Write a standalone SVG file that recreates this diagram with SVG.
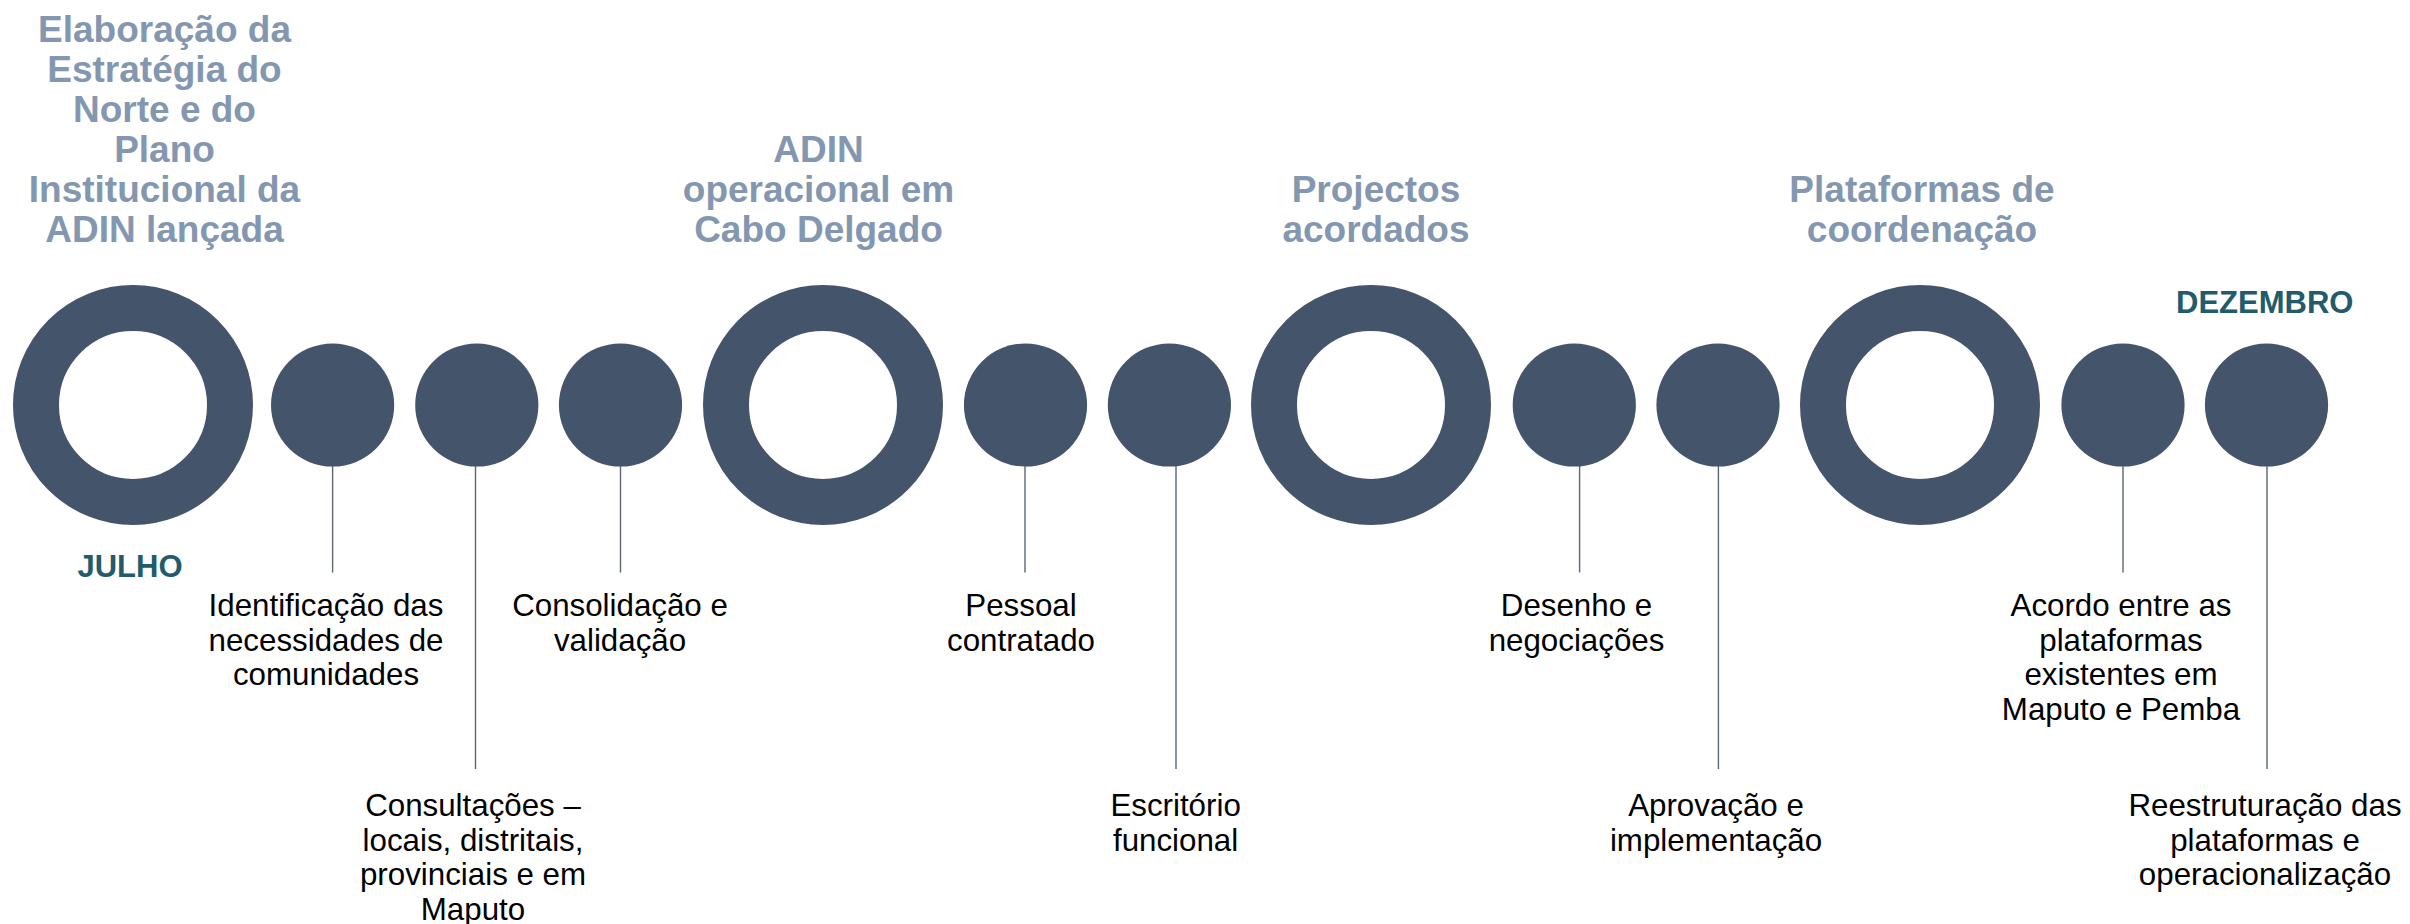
<svg xmlns="http://www.w3.org/2000/svg" width="2410" height="924" viewBox="0 0 2410 924">
<style>
.big{fill:none;stroke:#44546A;stroke-width:46}
.small{fill:#44546A}
.hd{font-family:"Liberation Sans",Arial,sans-serif;font-weight:bold;font-size:37px;fill:#8497B0;text-anchor:middle}
.mo{font-family:"Liberation Sans",Arial,sans-serif;font-weight:bold;font-size:31px;fill:#225B6A;text-anchor:middle}
.lb{font-family:"Liberation Sans",Arial,sans-serif;font-size:31.3px;fill:#000;text-anchor:middle}
.ln{stroke:#5A667A;stroke-width:1.4;fill:none}
</style>
<rect width="2410" height="924" fill="#fff"/>
<g id="connectors">
<line class="ln" x1="332.6" y1="466" x2="332.6" y2="572.5"/>
<line class="ln" x1="475.5" y1="466" x2="475.5" y2="769"/>
<line class="ln" x1="620.5" y1="466" x2="620.5" y2="572.5"/>
<line class="ln" x1="1025" y1="466" x2="1025" y2="572.5"/>
<line class="ln" x1="1176" y1="466" x2="1176" y2="769"/>
<line class="ln" x1="1579.6" y1="466" x2="1579.6" y2="572.5"/>
<line class="ln" x1="1718.4" y1="466" x2="1718.4" y2="769"/>
<line class="ln" x1="2123" y1="466" x2="2123" y2="572.5"/>
<line class="ln" x1="2267" y1="466" x2="2267" y2="769"/>
</g>
<g id="m1">
<circle class="big" cx="133" cy="405" r="97"/>
<text class="hd" x="164.5"><tspan x="164.5" y="41.7">Elaboração da</tspan><tspan x="164.5" y="81.7">Estratégia do</tspan><tspan x="164.5" y="121.7">Norte e do</tspan><tspan x="164.5" y="161.7">Plano</tspan><tspan x="164.5" y="201.7">Institucional da</tspan><tspan x="164.5" y="241.7">ADIN lançada</tspan></text>
<text class="mo" x="130" y="576.7">JULHO</text>
</g>
<g id="s1">
<circle class="small" cx="332.6" cy="405" r="61.6"/>
<text class="lb"><tspan x="326" y="616">Identificação das</tspan><tspan x="326" y="650.5">necessidades de</tspan><tspan x="326" y="685">comunidades</tspan></text>
</g>
<g id="s2">
<circle class="small" cx="476.8" cy="405" r="61.6"/>
<text class="lb"><tspan x="473" y="816">Consultações –</tspan><tspan x="473" y="850.7">locais, distritais,</tspan><tspan x="473" y="885.4">provinciais e em</tspan><tspan x="473" y="920">Maputo</tspan></text>
</g>
<g id="s3">
<circle class="small" cx="620.5" cy="405" r="61.6"/>
<text class="lb"><tspan x="620" y="616">Consolidação e</tspan><tspan x="620" y="650.5">validação</tspan></text>
</g>
<g id="m2">
<circle class="big" cx="823" cy="405" r="97"/>
<text class="hd"><tspan x="818.5" y="161.7">ADIN</tspan><tspan x="818.5" y="201.7">operacional em</tspan><tspan x="818.5" y="241.7">Cabo Delgado</tspan></text>
</g>
<g id="s4">
<circle class="small" cx="1025.5" cy="405" r="61.6"/>
<text class="lb"><tspan x="1021" y="616">Pessoal</tspan><tspan x="1021" y="650.5">contratado</tspan></text>
</g>
<g id="s5">
<circle class="small" cx="1169.4" cy="405" r="61.6"/>
<text class="lb"><tspan x="1175.6" y="816">Escritório</tspan><tspan x="1175.6" y="850.5">funcional</tspan></text>
</g>
<g id="m3">
<circle class="big" cx="1371" cy="405" r="97"/>
<text class="hd"><tspan x="1376" y="201.7">Projectos</tspan><tspan x="1376" y="241.7">acordados</tspan></text>
</g>
<g id="s6">
<circle class="small" cx="1574.3" cy="405" r="61.6"/>
<text class="lb"><tspan x="1576.5" y="616">Desenho e</tspan><tspan x="1576.5" y="650.5">negociações</tspan></text>
</g>
<g id="s7">
<circle class="small" cx="1718" cy="405" r="61.6"/>
<text class="lb"><tspan x="1716" y="816">Aprovação e</tspan><tspan x="1716" y="850.5">implementação</tspan></text>
</g>
<g id="m4">
<circle class="big" cx="1920" cy="405" r="97"/>
<text class="hd"><tspan x="1922" y="201.7">Plataformas de</tspan><tspan x="1922" y="241.7">coordenação</tspan></text>
</g>
<g id="s8">
<circle class="small" cx="2123" cy="405" r="61.6"/>
<text class="lb"><tspan x="2121" y="616">Acordo entre as</tspan><tspan x="2121" y="650.5">plataformas</tspan><tspan x="2121" y="685">existentes em</tspan><tspan x="2121" y="719.5">Maputo e Pemba</tspan></text>
</g>
<g id="s9">
<circle class="small" cx="2266.5" cy="405" r="61.6"/>
<text class="lb"><tspan x="2265" y="816">Reestruturação das</tspan><tspan x="2265" y="850.5">plataformas e</tspan><tspan x="2265" y="885">operacionalização</tspan></text>
<text class="mo" x="2264.7" y="313.3">DEZEMBRO</text>
</g>
</svg>
